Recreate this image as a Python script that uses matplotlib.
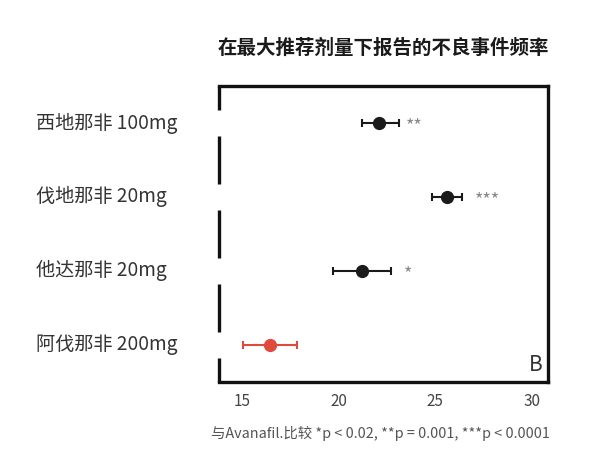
import matplotlib.pyplot as plt
import matplotlib.transforms as mtransforms
import numpy as np

plt.rcParams['font.family'] = ['Noto Sans CJK SC', 'DejaVu Sans']

# Adverse event frequency at max recommended dose
drugs = ['西地那非 100mg', '伐地那非 20mg', '他达那非 20mg', '阿伐那非 200mg']
values = np.array([22.1, 25.6, 21.2, 16.4])
err_lo = np.array([21.2, 24.8, 19.7, 15.0])
err_hi = np.array([23.1, 26.4, 22.7, 17.8])
stars = ['**', '***', '*', '']
star_x = [23.9, 27.7, 23.6, 0]
colors = ['#1a1a1a', '#1a1a1a', '#1a1a1a', '#e04a3c']
xticks = [15, 20, 25, 30]

fig = plt.figure(figsize=(6, 4.75), dpi=100)
ax = fig.add_axes([0.365, 0.196, 0.548, 0.623])

ypos = np.arange(len(drugs))[::-1]
for y, v, lo, hi, c in zip(ypos, values, err_lo, err_hi, colors):
    ax.errorbar(v, y, xerr=[[v - lo], [hi - v]], fmt='o', color=c, ecolor=c,
                markersize=8.5, elinewidth=1.5, capsize=3, capthick=1.5)
for y, s, sx in zip(ypos, stars, star_x):
    if s:
        ax.text(sx, y - 0.05, s, ha='center', va='center', color='#888888', fontsize=13)

ax.set_xlim(13.78, 30.83)
ax.set_ylim(-0.5, 3.5)
ax.set_xticks(xticks)
ax.set_xticklabels([str(t) for t in xticks], fontsize=11, color='#444444')
ax.tick_params(axis='x', length=0, pad=8)
ax.set_yticks(ypos)
ax.set_yticklabels([])
ax.tick_params(axis='y', length=0)

for side in ['top', 'right', 'bottom']:
    ax.spines[side].set_linewidth(2.4)
    ax.spines[side].set_color('#111111')
ax.spines['left'].set_visible(False)

# broken left spine, gaps at each category
gap = 0.18
segs = [(-0.5, 0 - gap)] + [(i + gap, i + 1 - gap) for i in range(3)] + [(3 + gap, 3.5)]
for a, b in segs:
    ax.plot([0, 0], [a, b], transform=ax.get_yaxis_transform(), color='#111111',
            lw=2.4, clip_on=False, solid_capstyle='butt')

label_tr = mtransforms.blended_transform_factory(fig.transFigure, ax.transData)
for y, name in zip(ypos, drugs):
    ax.text(36 / 600, y, name, transform=label_tr,
            ha='left', va='center', fontsize=13.8, color='#333333')

ax.text(0.985, 0.02, 'B', transform=ax.transAxes, ha='right', va='bottom', fontsize=15, color='#333333')

fig.text(383.5 / 600, 1 - 48 / 475, '在最大推荐剂量下报告的不良事件频率', ha='center', va='center',
         fontsize=14, fontweight='bold', color='#1a1a1a')
fig.text(380 / 600, 1 - 433 / 475, '与Avanafil.比较 *p < 0.02, **p = 0.001, ***p < 0.0001',
         ha='center', va='center', fontsize=10.4, color='#555555')

fig.savefig('out.png', dpi=100, facecolor='white')
